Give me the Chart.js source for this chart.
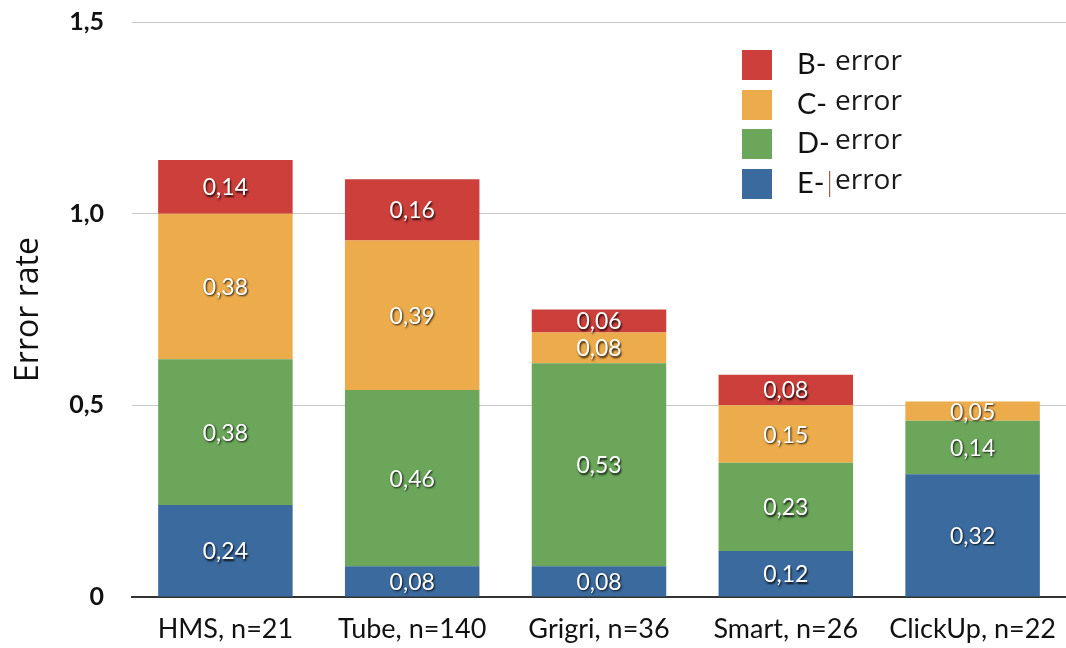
<!DOCTYPE html>
<html>
<head>
<meta charset="utf-8">
<script src="https://cdn.jsdelivr.net/npm/chart.js@4/dist/chart.umd.min.js"></script>
<style>
  html, body { margin: 0; padding: 0; background: #ffffff; }
  #wrap { width: 1066px; height: 648px; position: relative; }
</style>
</head>
<body>
<div id="wrap"><canvas id="c" width="1066" height="648"></canvas></div>
<script>
// ---- data ----
const categories = ['HMS, n=21', 'Tube, n=140', 'Grigri, n=36', 'Smart, n=26', 'ClickUp, n=22'];
const eError = [0.24, 0.08, 0.08, 0.12, 0.32];
const dError = [0.38, 0.46, 0.53, 0.23, 0.14];
const cError = [0.38, 0.39, 0.08, 0.15, 0.05];
const bError = [0.14, 0.16, 0.06, 0.08, 0];
const seriesPrefixes = ['E-', 'D-', 'C-', 'B-'];
const legendSuffix = 'error';
const yTickValues = [0, 0.5, 1.0, 1.5];
const yTitle = 'Error rate';

const colors = ['#3b6a9e', '#6ba65b', '#edac4b', '#cc3f3b'];

const fmtTick = v => v === 0 ? '0' : v.toFixed(1).replace('.', ',');
const fmtVal = v => v.toFixed(2).replace('.', ',');

const GILL = 'Lato, "DejaVu Sans", sans-serif';

const valueLabels = {
  id: 'valueLabels',
  afterDatasetsDraw(chart) {
    const ctx = chart.ctx;
    ctx.save();
    ctx.font = '23px ' + GILL;
    ctx.textAlign = 'center';
    ctx.textBaseline = 'middle';
    chart.data.datasets.forEach((ds, di) => {
      const meta = chart.getDatasetMeta(di);
      meta.data.forEach((bar, i) => {
        const v = ds.data[i];
        if (!v) return;
        const y = (bar.y + bar.base) / 2;
        ctx.shadowColor = 'rgba(0,0,0,0.85)';
        ctx.shadowOffsetX = 1;
        ctx.shadowOffsetY = 1.5;
        ctx.shadowBlur = 2;
        ctx.fillStyle = '#ffffff';
        ctx.fillText(fmtVal(v), bar.x, y + 1);
      });
    });
    ctx.restore();
  }
};

const customLegend = {
  id: 'customLegend',
  afterDraw(chart) {
    const ctx = chart.ctx;
    ctx.save();
    const boxX = 742, boxW = 30, boxH = 30;
    const tops = [50, 90, 129, 169];
    const order = [3, 2, 1, 0];
    order.forEach((di, k) => {
      const ds = chart.data.datasets[di];
      const top = tops[k];
      ctx.fillStyle = ds.backgroundColor;
      ctx.fillRect(boxX, top, boxW, boxH);
      const cy = top + boxH / 2;
      ctx.textBaseline = 'middle';
      ctx.textAlign = 'left';
      ctx.fillStyle = '#111111';
      ctx.font = '29px ' + GILL;
      ctx.fillText(seriesPrefixes[di], 797, cy);
      if (di === 0) {
        ctx.fillStyle = '#8a6a4a';
        ctx.fillRect(829, cy - 13, 1.2, 26);
      }
      ctx.fillStyle = '#1a1a1a';
      ctx.font = '28px "Open Sans", sans-serif';
      ctx.fillText(legendSuffix, 835, cy - 3);
    });
    ctx.restore();
  }
};

new Chart(document.getElementById('c'), {
  type: 'bar',
  data: {
    labels: categories,
    datasets: [
      { label: seriesPrefixes[0] + ' ' + legendSuffix, data: eError, backgroundColor: colors[0] },
      { label: seriesPrefixes[1] + ' ' + legendSuffix, data: dError, backgroundColor: colors[1] },
      { label: seriesPrefixes[2] + ' ' + legendSuffix, data: cError, backgroundColor: colors[2] },
      { label: seriesPrefixes[3] + ' ' + legendSuffix, data: bError, backgroundColor: colors[3] }
    ]
  },
  options: {
    responsive: false,
    animation: false,
    layout: { padding: { top: 22, right: -3, bottom: 0, left: 0 } },
    datasets: { bar: { barPercentage: 0.72, categoryPercentage: 1.0, borderWidth: 0 } },
    plugins: {
      legend: { display: false },
      tooltip: { enabled: false }
    },
    scales: {
      x: {
        stacked: true,
        grid: { display: false, drawTicks: false },
        border: { display: true, color: '#333333', width: 2 },
        ticks: {
          color: '#111111',
          font: { family: GILL, size: 27 },
          padding: 16,
          maxRotation: 0,
          autoSkip: false
        },
        afterFit(scale) {
          scale.height = 51;
          scale.paddingLeft = 0;
          scale.paddingRight = 0;
        }
      },
      y: {
        stacked: true,
        min: 0,
        max: 1.5,
        afterBuildTicks(scale) { scale.ticks = yTickValues.map(v => ({ value: v })); },
        grid: {
          drawTicks: false,
          color: ctx => ctx.tick && ctx.tick.value === 0 ? 'rgba(0,0,0,0)' : '#c9c9c9',
          lineWidth: 1
        },
        border: { display: false },
        ticks: {
          color: '#111111',
          font: { family: GILL, size: 25, weight: 'bold' },
          padding: 28,
          callback: v => fmtTick(v)
        },
        title: {
          display: true,
          text: yTitle,
          color: '#111111',
          font: { family: '"Open Sans", sans-serif', size: 32 },
          padding: { top: 10, bottom: 0 }
        },
        afterFit(scale) {
          scale.width = 132;
          scale.paddingTop = 0;
          scale.paddingBottom = 0;
        }
      }
    }
  },
  plugins: [valueLabels, customLegend]
});
</script>
</body>
</html>
